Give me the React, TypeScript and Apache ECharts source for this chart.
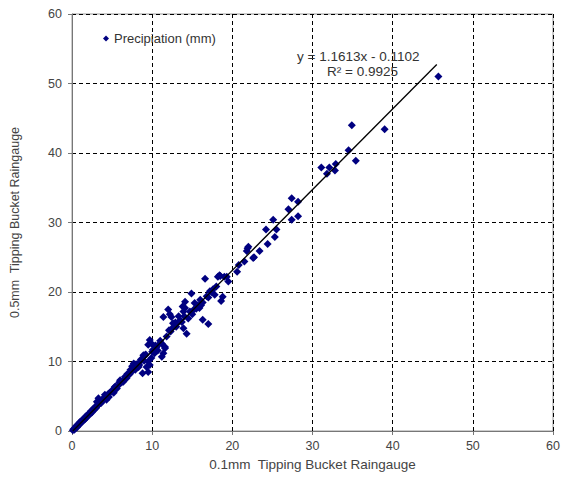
import React, { useEffect, useRef } from "react";
import * as echarts from "echarts";

const seriesName = "Precipiation (mm)";
const xTicks = [0, 10, 20, 30, 40, 50, 60];
const yTicks = [0, 10, 20, 30, 40, 50, 60];
const slope = 1.1613;
const intercept = -0.1102;
const r2 = 0.9925;
const trendRange = [0.1, 45.5];

const gauge01: number[] = [
  0.1, 0.2, 0.3, 0.4, 0.5, 0.6, 0.7, 0.8, 0.9, 1.0, 1.1, 1.2, 1.3, 1.4, 1.5, 1.6, 1.7, 1.8, 1.9, 2.0,
  2.1, 2.2, 2.3, 2.4, 2.5, 2.6, 2.7, 2.8, 2.9, 3.0, 3.1, 3.2, 3.3, 3.4, 3.5, 3.6, 3.7, 3.9, 4.0, 4.1,
  4.2, 4.3, 4.5, 4.6, 4.8, 5.0, 5.2, 5.4, 5.6, 5.8, 6.0, 6.2, 6.4, 6.6, 6.8, 7.1, 7.3, 7.5, 7.7, 7.9,
  8.1, 8.3, 8.5, 8.7, 8.9, 8.8, 9.1, 9.3, 9.5, 9.5, 9.7, 9.5, 9.7, 9.9, 9.9, 10.1, 10.3, 10.5, 10.7, 11.2,
  11.2, 11.4, 11.6, 11.6, 11.4, 12.0, 12.4, 12.2, 12.6, 12.8, 12.1, 12.5, 13.0, 13.3, 13.3, 13.7, 13.8, 13.9, 14.1, 14.1,
  13.9, 14.3, 14.5, 14.9, 15.0, 15.3, 15.5, 15.7, 15.9, 16.1, 16.3, 16.3, 16.6, 17.0, 17.0, 17.4, 17.6, 17.8, 18.0, 18.2,
  18.4, 18.5, 18.6, 18.8, 19.0, 19.3, 19.5, 20.6, 20.8, 21.5, 21.8, 21.9, 22.0, 22.6, 22.7, 23.4, 24.2, 24.4, 25.1, 25.3,
  25.5, 27.0, 27.4, 27.4, 28.2, 28.2, 31.1, 31.8, 32.1, 32.8, 32.9, 34.5, 34.9, 35.4, 39.0, 45.7,
  0.3, 0.5, 0.8, 1.0, 1.2, 1.5, 1.7, 2.0, 2.2, 2.5, 2.7, 3.0, 3.3, 3.6, 3.8, 4.1, 4.4, 4.7, 5.0, 5.3,
  5.5, 5.9, 6.1, 6.5, 6.9, 7.2, 7.6, 8.0, 8.4, 8.6, 9.0, 9.2, 10.0, 10.4, 10.8, 11.0, 11.8, 12.3, 12.9, 13.5,
  14.0, 14.7, 15.2, 16.0, 16.8, 17.2,
];
const gauge05: number[] = [
  0.1, 0.3, 0.2, 0.5, 0.6, 0.5, 0.9, 0.8, 1.1, 1.0, 1.3, 1.5, 1.4, 1.6, 1.8, 1.7, 2.1, 1.9, 2.2, 2.4,
  2.3, 2.6, 2.5, 2.9, 2.7, 3.0, 3.2, 3.1, 3.5, 3.3, 4.2, 3.7, 4.7, 3.9, 4.2, 4.0, 4.4, 4.5, 4.8, 5.2,
  4.7, 4.5, 5.3, 4.9, 5.6, 5.7, 5.5, 6.4, 6.1, 6.6, 7.3, 7.0, 7.1, 7.8, 7.6, 8.1, 8.8, 9.3, 9.7, 8.8,
  9.4, 9.2, 10.0, 10.2, 10.9, 8.3, 10.9, 9.2, 8.5, 12.4, 13.1, 10.0, 9.5, 10.5, 12.6, 11.7, 11.2, 12.0, 11.6, 12.6,
  10.7, 11.2, 12.1, 11.9, 16.4, 17.5, 16.4, 16.8, 15.5, 15.3, 14.5, 14.8, 15.0, 15.7, 16.5, 15.7, 17.9, 14.8, 17.7, 18.6,
  17.2, 14.0, 16.2, 19.8, 16.8, 18.4, 17.6, 18.1, 17.7, 18.1, 18.5, 16.0, 21.9, 15.4, 19.2, 20.0, 20.4, 19.6, 20.8, 22.2,
  22.4, 22.3, 18.7, 19.3, 22.2, 22.2, 21.5, 22.9, 23.9, 24.4, 25.9, 26.3, 26.5, 24.9, 25.0, 25.9, 29.0, 26.9, 30.4, 27.9,
  29.0, 31.9, 33.5, 30.4, 33.0, 30.9, 37.9, 37.0, 37.9, 37.5, 38.4, 40.4, 44.0, 38.9, 43.4, 51.0,
  0.2, 0.7, 0.9, 1.3, 1.3, 1.6, 2.0, 2.3, 2.5, 2.9, 3.2, 3.4, 3.9, 4.1, 4.3, 4.9, 5.0, 5.5, 5.8, 6.3,
  6.2, 7.0, 7.0, 7.4, 8.2, 8.2, 8.7, 9.6, 9.5, 10.3, 10.1, 11.0, 11.4, 12.3, 12.4, 13.0, 13.6, 14.3, 15.6, 15.9,
  16.5, 17.2, 17.5, 18.9, 19.4, 20.1,
];

const FONT = "'Liberation Sans', Arial, sans-serif";

export default function App() {
  const ref = useRef<HTMLDivElement>(null);
  useEffect(() => {
    if (!ref.current) return;
    const chart = echarts.init(ref.current, undefined, { renderer: "svg" });
    const points = gauge01.map((x, i) => [x, gauge05[i]]);
    const trend = trendRange.map((x) => [x, slope * x + intercept]);
    chart.setOption({
      animation: false,
      backgroundColor: "#fff",
      grid: {
        left: 70,
        right: 10,
        top: 14,
        bottom: 51,
        show: true,
        borderColor: "#999",
        borderWidth: 1,
      },
      legend: {
        data: [seriesName],
        left: 103,
        top: 32,
        padding: 0,
        icon: "diamond",
        itemWidth: 6,
        itemHeight: 6,
        itemGap: 4,
        itemStyle: { opacity: 1 },
        textStyle: { fontFamily: FONT, fontSize: 13, color: "#333" },
      },
      xAxis: {
        type: "value",
        min: xTicks[0],
        max: xTicks[xTicks.length - 1],
        interval: 10,
        name: "0.1mm  Tipping Bucket Raingauge",
        nameLocation: "middle",
        nameGap: 26,
        nameTextStyle: { fontFamily: FONT, fontSize: 13.5, color: "#444" },
        axisLine: { show: true, lineStyle: { color: "#777", width: 1 } },
        axisTick: { show: true, inside: false, length: 4, lineStyle: { color: "#777" } },
        axisLabel: { fontFamily: FONT, fontSize: 12.5, color: "#444", margin: 8 },
        splitLine: { show: true, lineStyle: { color: "#000", type: [4, 3], width: 1 } },
      },
      yAxis: {
        type: "value",
        min: yTicks[0],
        max: yTicks[yTicks.length - 1],
        interval: 10,
        name: "0.5mm  Tipping Bucket Raingauge",
        nameLocation: "middle",
        nameGap: 51,
        nameTextStyle: { fontFamily: FONT, fontSize: 12.5, color: "#444" },
        axisLine: { show: true, lineStyle: { color: "#777", width: 1 } },
        axisTick: { show: true, inside: false, length: 4, lineStyle: { color: "#777" } },
        axisLabel: { fontFamily: FONT, fontSize: 12.5, color: "#444", margin: 10 },
        splitLine: { show: true, lineStyle: { color: "#000", type: [4, 3], width: 1 } },
      },
      series: [
        {
          name: seriesName,
          type: "scatter",
          symbol: "diamond",
          symbolSize: 8,
          itemStyle: { color: "#000080", opacity: 1 },
          data: points,
          z: 3,
        },
        {
          name: "trend",
          type: "line",
          showSymbol: false,
          symbol: "none",
          lineStyle: { color: "#000", width: 1.3 },
          data: trend,
          z: 4,
        },
      ],
      graphic: [
        {
          type: "text",
          left: 297,
          top: 49,
          style: {
            text: `y = ${slope}x - ${Math.abs(intercept)}`,
            fontFamily: FONT,
            fontSize: 13.5,
            fill: "#333",
          },
          z: 10,
        },
        {
          type: "text",
          left: 327,
          top: 64,
          style: {
            text: `R² = ${r2}`,
            fontFamily: FONT,
            fontSize: 13.5,
            fill: "#333",
          },
          z: 10,
        },
      ],
    });
    return () => chart.dispose();
  }, []);
  return <div ref={ref} style={{ width: 563, height: 482, position: "absolute", left: 0, top: 0 }} />;
}
